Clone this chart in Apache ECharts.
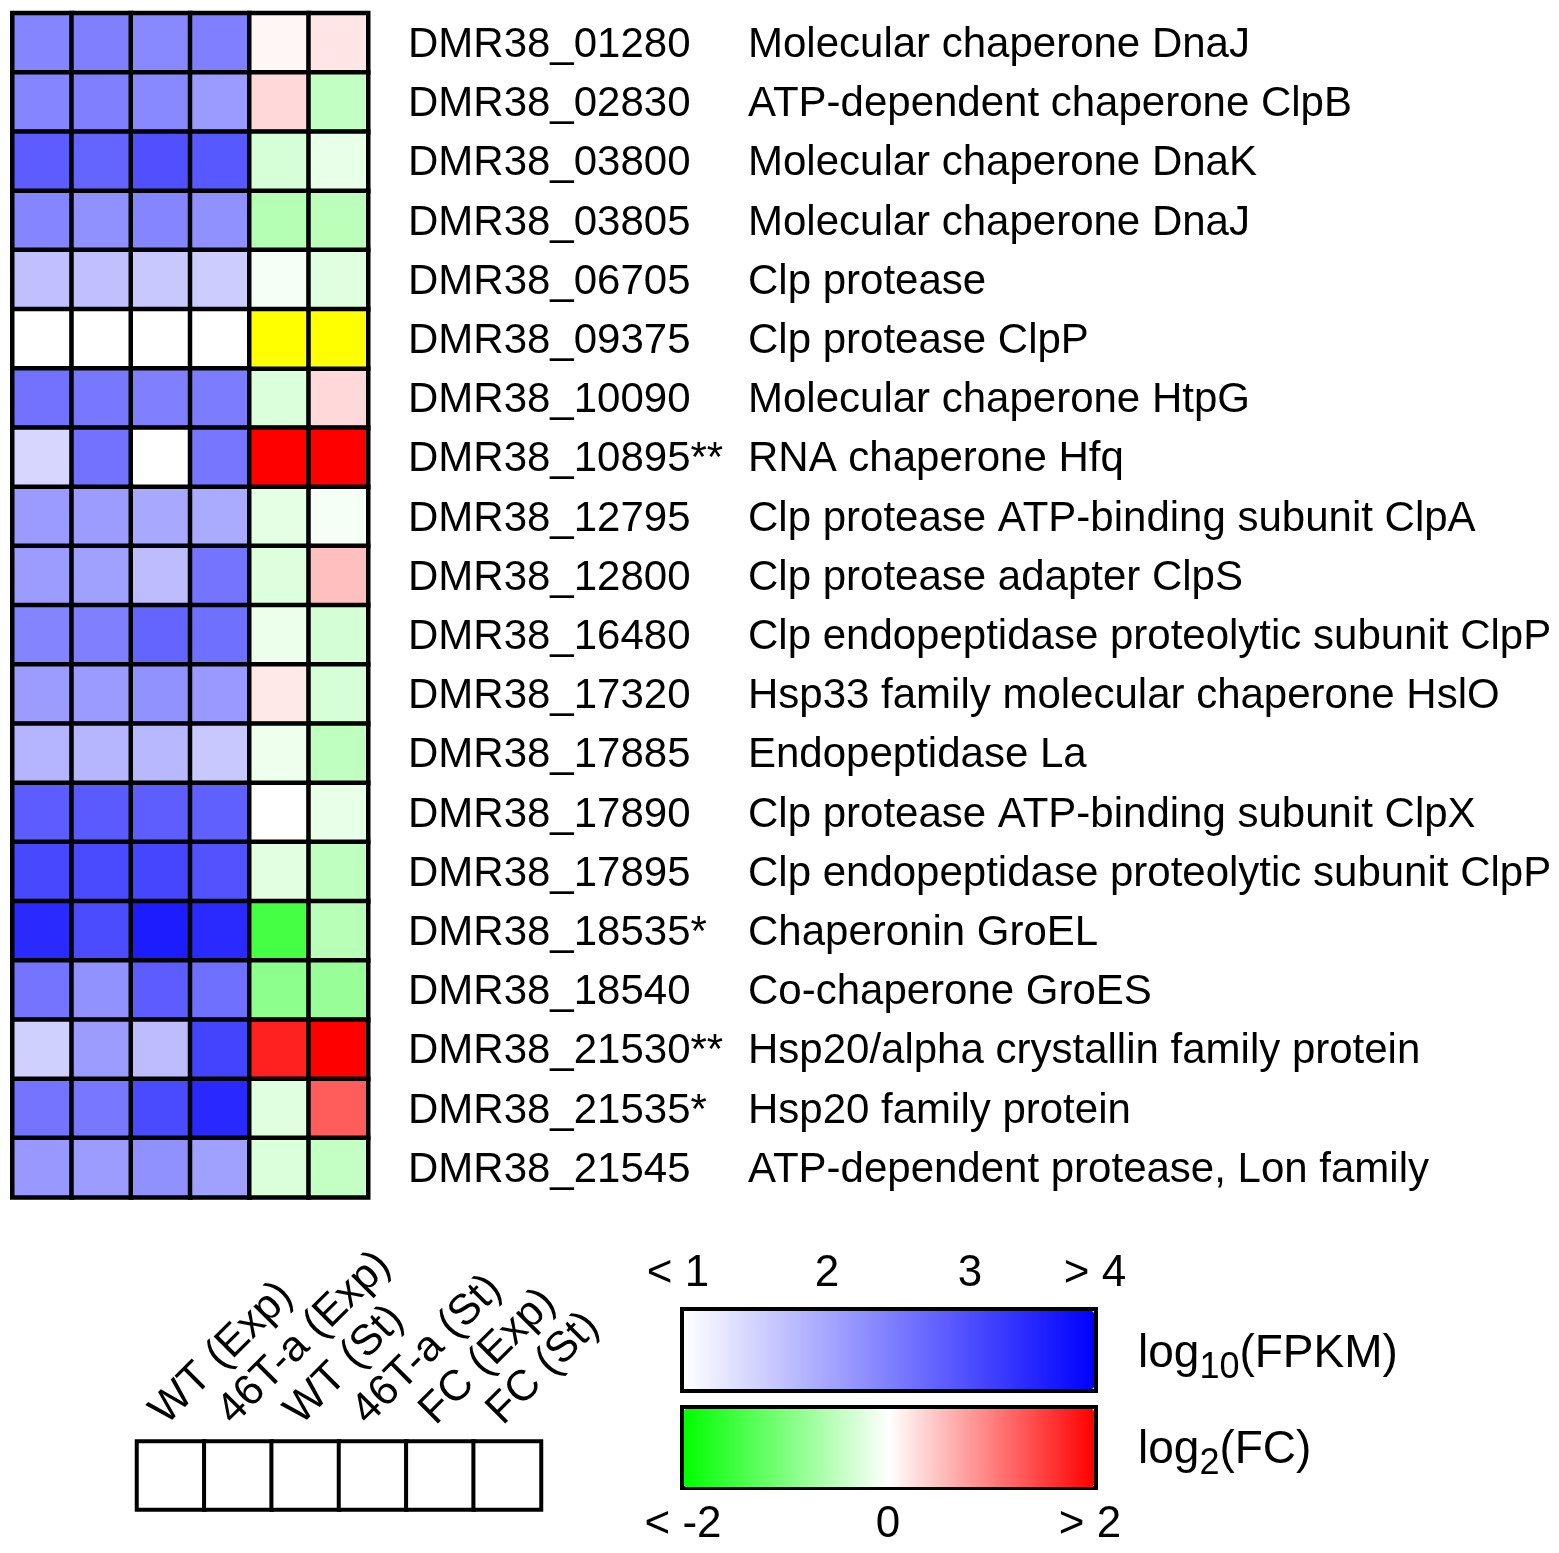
<!DOCTYPE html>
<html>
<head>
<meta charset="utf-8">
<script src="https://cdn.jsdelivr.net/npm/echarts@6/dist/echarts.min.js"></script>
<style>
    html, body { margin: 0; padding: 0; background: #fff; }
    #chart { width: 1559px; height: 1553px; }
</style>
</head>
<body>
<div id="chart"></div>
<script>
const genes = ['DMR38_01280', 'DMR38_02830', 'DMR38_03800', 'DMR38_03805', 'DMR38_06705',
    'DMR38_09375', 'DMR38_10090', 'DMR38_10895**', 'DMR38_12795', 'DMR38_12800',
    'DMR38_16480', 'DMR38_17320', 'DMR38_17885', 'DMR38_17890', 'DMR38_17895',
    'DMR38_18535*', 'DMR38_18540', 'DMR38_21530**', 'DMR38_21535*', 'DMR38_21545']
const descriptions = ['Molecular chaperone DnaJ', 'ATP-dependent chaperone ClpB', 'Molecular chaperone DnaK',
    'Molecular chaperone DnaJ', 'Clp protease', 'Clp protease ClpP', 'Molecular chaperone HtpG',
    'RNA chaperone Hfq', 'Clp protease ATP-binding subunit ClpA', 'Clp protease adapter ClpS',
    'Clp endopeptidase proteolytic subunit ClpP', 'Hsp33 family molecular chaperone HslO',
    'Endopeptidase La', 'Clp protease ATP-binding subunit ClpX', 'Clp endopeptidase proteolytic subunit ClpP',
    'Chaperonin GroEL', 'Co-chaperone GroES', 'Hsp20/alpha crystallin family protein',
    'Hsp20 family protein', 'ATP-dependent protease, Lon family']
const samples = ['WT (Exp)', '46T-a (Exp)', 'WT (St)', '46T-a (St)', 'FC (Exp)', 'FC (St)']

// log10(FPKM)
const wtExp = [2.43, 2.43, 2.92, 2.43, 1.74, 1.0, 2.66, 1.48, 2.19, 2.16, 2.45, 2.16, 1.88, 2.92, 3.15, 3.51, 2.64, 1.55, 2.64, 2.21]
const mutExp = [2.49, 2.49, 2.82, 2.31, 1.74, 1.0, 2.59, 2.66, 2.16, 2.12, 2.49, 2.19, 1.86, 2.94, 3.13, 3.11, 2.28, 2.16, 2.59, 2.16]
const wtSt = [2.40, 2.40, 3.06, 2.43, 1.65, 1.0, 2.49, 1.0, 2.02, 1.79, 2.82, 2.28, 1.84, 2.90, 3.18, 3.67, 2.92, 1.79, 3.13, 2.31]
const mutSt = [2.51, 2.19, 2.96, 2.31, 1.60, 1.0, 2.54, 2.61, 2.00, 2.64, 2.68, 2.20, 1.65, 2.87, 3.04, 3.51, 2.68, 3.20, 3.53, 2.12]
// log2(FC), null = not available (yellow)
const fcExp = [0.07, 0.30, -0.31, -0.59, -0.08, null, -0.29, 2, -0.21, -0.27, -0.16, 0.18, -0.13, 0, -0.23, -1.47, -0.9, 1.75, -0.24, -0.29]
const fcSt = [0.2, -0.48, -0.18, -0.53, -0.24, null, 0.3, 2, -0.07, 0.5, -0.34, -0.31, -0.5, -0.18, -0.5, -0.56, -0.81, 2, 1.28, -0.46]

const fpkmTicks = ['< 1', '2', '3', '> 4']
const fcTicks = ['< -2', '0', '> 2']

const font = 'Liberation Sans, Arial, sans-serif'

onload = () => {
    let myChart = echarts.init(document.getElementById('chart'))

    let fpkmData = []
    let fcData = []
    let naData = []
    genes.forEach((g, r) => {
        [wtExp, mutExp, wtSt, mutSt].forEach((arr, c) => fpkmData.push([c, r, arr[r]]))
        ;[fcExp, fcSt].forEach((arr, c) => {
            if (arr[r] === null) {
                naData.push([c + 4, r, 0])
            } else {
                fcData.push([c + 4, r, arr[r]])
            }
        })
    })
    let keyData = samples.map((s, i) => [i, 0, 0])

    const cellStyle = { borderColor: '#000', borderWidth: 4.5 }

    const tickText = (txt, x, y) => ({
        type: 'text', x: x, y: y,
        style: { text: txt, fontSize: 44, fontFamily: font, fill: '#000', align: 'center', verticalAlign: 'middle' }
    })

    const legendTitle = (main, sub, rest, y) => ({
        type: 'text', x: 1138, y: y,
        style: {
            text: `{a|${main}}{b|${sub}}{a|${rest}}`, fontFamily: font, fill: '#000', verticalAlign: 'middle',
            rich: {
                a: { fontSize: 46, fontFamily: font, color: '#000' },
                b: { fontSize: 36, fontFamily: font, color: '#000', padding: [28, 0, 0, 0] }
            }
        }
    })

    let option = {
        animation: false,
        backgroundColor: '#fff',
        grid: [
            { left: 12.5, top: 13.3, width: 355.5, height: 1184 },
            { left: 137, top: 1441.5, width: 404, height: 68 },
            { left: 124, top: 1441.5, width: 404, height: 68 }
        ],
        xAxis: [
            { type: 'category', gridIndex: 0, data: samples, show: false },
            { type: 'category', gridIndex: 1, data: samples, show: false },
            {
                type: 'category', gridIndex: 2, data: samples, position: 'top',
                axisLine: { show: false }, axisTick: { show: false },
                axisLabel: { interval: 0, rotate: -45, margin: 24, fontSize: 43, fontFamily: font, color: '#000' }
            }
        ],
        yAxis: [
            {
                type: 'category', gridIndex: 0, data: genes, inverse: true, position: 'right',
                axisLine: { show: false }, axisTick: { show: false },
                axisLabel: {
                    interval: 0, margin: 40, color: '#000',
                    formatter: (v, i) => `{id|${v}}{d|${descriptions[i]}}`,
                    rich: {
                        id: { width: 340, fontSize: 42, fontFamily: font, color: '#000', padding: [5, 0, 0, 0] },
                        d: { fontSize: 42, fontFamily: font, color: '#000', padding: [5, 0, 0, 0] }
                    }
                }
            },
            { type: 'category', gridIndex: 1, data: ['key'], show: false },
            { type: 'category', gridIndex: 2, data: ['key'], show: false }
        ],
        visualMap: [
            {
                type: 'continuous', seriesIndex: 0, dimension: 2, min: 1, max: 4,
                inRange: { color: ['#ffffff', '#0000ff'] },
                orient: 'horizontal', left: 684, top: 1311, itemWidth: 78, itemHeight: 410,
                calculable: false, hoverLink: false, padding: 0, text: null
            },
            {
                type: 'continuous', seriesIndex: 1, dimension: 2, min: -2, max: 2,
                inRange: { color: ['#00ff00', '#ffffff', '#ff0000'] },
                orient: 'horizontal', left: 684, top: 1409, itemWidth: 78, itemHeight: 410,
                calculable: false, hoverLink: false, padding: 0, text: null
            }
        ],
        series: [
            {
                type: 'heatmap', xAxisIndex: 0, yAxisIndex: 0, data: fpkmData,
                itemStyle: cellStyle, emphasis: { disabled: true }
            },
            {
                type: 'heatmap', xAxisIndex: 0, yAxisIndex: 0, data: fcData,
                itemStyle: cellStyle, emphasis: { disabled: true }
            },
            {
                type: 'heatmap', xAxisIndex: 0, yAxisIndex: 0, data: naData,
                itemStyle: Object.assign({ color: '#ffff00' }, cellStyle), emphasis: { disabled: true }
            },
            {
                type: 'heatmap', xAxisIndex: 1, yAxisIndex: 1, data: keyData,
                itemStyle: { color: '#ffffff', borderColor: '#000', borderWidth: 4 }, emphasis: { disabled: true }
            }
        ],
        graphic: [
            { type: 'rect', shape: { x: 682, y: 1309, width: 414, height: 82 }, style: { fill: 'none', stroke: '#000', lineWidth: 4 } },
            { type: 'rect', shape: { x: 682, y: 1407, width: 414, height: 81 }, style: { fill: 'none', stroke: '#000', lineWidth: 4 } },
            tickText(fpkmTicks[0], 678, 1274),
            tickText(fpkmTicks[1], 827, 1274),
            tickText(fpkmTicks[2], 970, 1274),
            tickText(fpkmTicks[3], 1095, 1274),
            tickText(fcTicks[0], 683, 1525),
            tickText(fcTicks[1], 888, 1525),
            tickText(fcTicks[2], 1090, 1525),
            legendTitle('log', '10', '(FPKM)', 1354),
            legendTitle('log', '2', '(FC)', 1450)
        ]
    }

    option && myChart.setOption(option)
}
</script>
</body>
</html>
